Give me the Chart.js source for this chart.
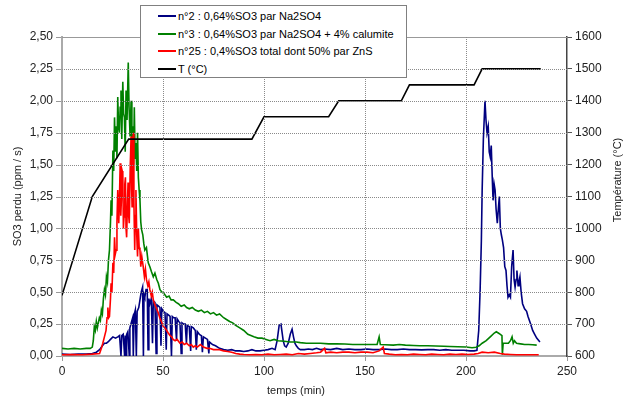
<!DOCTYPE html>
<html>
<head>
<meta charset="utf-8">
<script src="https://cdn.jsdelivr.net/npm/chart.js@4"></script>
<style>
  body { margin: 0; background: #fff; }
  #wrap { position: relative; width: 625px; height: 399px; }
  #chart { position: absolute; left: 0; top: 0; }
  #grid { position: absolute; left: 0; top: 0; width: 625px; height: 399px; pointer-events: none; }
  #grid .h { position: absolute; height: 0; border-top: 1px dotted #8a8a8a; }
  #grid .v { position: absolute; width: 0; border-left: 1px dotted #8a8a8a; }
  #grid .tk { position: absolute; background: #999; }
  #legend {
    position: absolute; left: 140px; top: 5px; width: 265px; height: 71px;
    border: 1px solid #808080; background: #fff;
    font: 11px 'Liberation Sans', Arial, sans-serif; color: #000;
  }
  #legend div { position: absolute; left: 17px; height: 14px; line-height: 14px; white-space: nowrap; }
  #legend span.sw { display: inline-block; width: 18px; height: 2px; vertical-align: middle; margin-right: 2px; position: relative; top: -1px; }
</style>
</head>
<body>
<div id="wrap">
  <canvas id="chart" width="625" height="399"></canvas>
  <div id="grid"></div>
  <div id="legend"></div>
</div>
<script>
// temperature programme
const tTemp = [0, 15, 33, 94, 100, 132, 137, 168, 172, 204, 208, 237];
const temp = [790, 1100, 1280, 1280, 1350, 1350, 1400, 1400, 1450, 1450, 1500, 1500];

// n°2 : 0,64%SO3 par Na2SO4
const tN2 = [0, 4, 8, 12, 15, 17, 18.6, 20, 21, 22, 22.8, 24, 25.2, 26.5, 27.6, 28.5, 29.2, 29.6, 30.3, 31, 31.3, 31.7, 32, 32.6, 33.3, 33.6, 34.3, 35, 35.3, 35.7, 36.3, 36.8, 37.2, 38, 38.6, 39.2, 39.9, 40.3, 40.6, 41, 41.6, 42.2, 42.6, 43, 43.5, 44.2, 44.8, 45.2, 46, 46.6, 47, 47.8, 48.5, 49, 49.4, 50.2, 51, 51.6, 52, 52.8, 53.5, 54.2, 54.6, 55.3, 56, 56.7, 57, 57.8, 58.4, 59, 59.4, 60.2, 61, 61.6, 62, 63, 63.7, 64, 65, 66, 66.5, 67, 68, 69, 69.5, 70, 71, 72, 72.7, 73, 74.5, 76, 78, 80, 82, 84, 86, 88, 90, 92, 94, 96, 98, 100, 102, 104, 105.5, 106.5, 107.5, 108.4, 109, 109.5, 110.2, 111, 112, 113, 113.9, 114.6, 115.3, 116, 117, 118, 120, 122, 124, 126, 128, 130, 133, 136, 139, 142, 145, 148, 151, 154, 157, 160, 163, 166, 169, 172, 175, 178, 181, 184, 187, 190, 193, 196, 199, 202, 204, 205.4, 206.3, 207, 207.6, 208, 208.6, 209.4, 209.9, 210.4, 211, 211.5, 212, 212.5, 213, 213.4, 213.9, 214.4, 214.9, 215.5, 216, 216.5, 217, 217.5, 218, 218.6, 219.2, 219.8, 220.3, 220.8, 221.4, 222, 222.6, 223.3, 223.8, 224.3, 224.8, 225.2, 225.8, 226.2, 226.7, 227.3, 228, 229, 230, 230.7, 232, 233, 234, 235, 236.6];
const so3N2 = [0.015, 0.012, 0.015, 0.015, 0.02, 0.03, 0.05, 0.08, 0.1, 0.1, 0.11, 0.13, 0.15, 0.14, 0.15, 0.16, 0.0, 0.16, 0.17, 0.0, 0.16, 0.0, 0.17, 0.19, 0.0, 0.22, 0.26, 0.3, 0.0, 0.32, 0.36, 0.0, 0.35, 0.38, 0.44, 0.5, 0.54, 0.0, 0.48, 0.46, 0.52, 0.52, 0.05, 0.45, 0.41, 0.45, 0.1, 0.43, 0.42, 0.02, 0.4, 0.39, 0.38, 0.08, 0.37, 0.35, 0.34, 0.05, 0.33, 0.32, 0.31, 0.0, 0.31, 0.3, 0.3, 0.12, 0.29, 0.27, 0.26, 0.02, 0.26, 0.25, 0.25, 0.1, 0.24, 0.23, 0.04, 0.23, 0.22, 0.2, 0.05, 0.19, 0.17, 0.16, 0.03, 0.15, 0.14, 0.13, 0.02, 0.11, 0.09, 0.08, 0.06, 0.05, 0.045, 0.05, 0.04, 0.04, 0.035, 0.04, 0.05, 0.04, 0.04, 0.045, 0.05, 0.06, 0.05, 0.12, 0.24, 0.25, 0.18, 0.12, 0.08, 0.07, 0.1, 0.17, 0.21, 0.15, 0.1, 0.08, 0.06, 0.05, 0.05, 0.055, 0.05, 0.06, 0.05, 0.055, 0.05, 0.06, 0.05, 0.055, 0.05, 0.05, 0.055, 0.05, 0.05, 0.055, 0.05, 0.05, 0.055, 0.05, 0.05, 0.048, 0.05, 0.05, 0.045, 0.05, 0.045, 0.045, 0.045, 0.04, 0.04, 0.045, 0.2, 0.52, 0.9, 1.3, 1.7, 2.0, 1.85, 1.75, 1.8, 1.6, 1.56, 1.65, 1.4, 1.22, 1.35, 1.3, 1.15, 1.04, 1.15, 1.25, 1.0, 0.95, 0.91, 0.85, 0.7, 0.67, 0.55, 0.46, 0.48, 0.46, 0.7, 0.83, 0.6, 0.54, 0.6, 0.67, 0.55, 0.58, 0.62, 0.5, 0.41, 0.37, 0.35, 0.31, 0.25, 0.2, 0.17, 0.14, 0.11];

// n°3 : 0,64%SO3 par Na2SO4 + 4% calumite
const tN3 = [0, 3, 6, 9, 12, 14, 15, 15.5, 16, 16.5, 17, 17.5, 18, 18.5, 19, 19.5, 20, 20.5, 21, 21.5, 22, 22.5, 23, 23.5, 24, 24.3, 24.7, 25.2, 25.6, 26, 26.4, 26.8, 27.2, 27.6, 28, 28.4, 28.8, 29.2, 29.6, 30.1, 30.5, 30.9, 31.3, 31.7, 32.2, 32.8, 33.2, 33.7, 34.2, 34.6, 35, 35.4, 35.8, 36.2, 36.6, 37, 37.4, 37.8, 38.2, 38.6, 39, 39.4, 40, 40.5, 41, 41.8, 42.7, 43.5, 44.3, 45.2, 46, 46.9, 47.7, 48.5, 49.5, 50.5, 51.8, 53, 54, 55.1, 56.5, 57.6, 59, 60.5, 61.7, 63, 64.5, 66, 67.5, 69, 70.5, 72, 73.5, 75, 76.5, 78, 80, 82, 83, 84.5, 86, 88, 90, 92, 93.5, 95, 97, 99, 101, 103, 105, 107, 110, 113, 116, 118, 121, 124, 128, 132, 136, 140, 144, 148, 152, 156, 157, 157.6, 160, 164, 167, 170, 174, 177, 181, 185, 189, 192, 196, 200, 203, 205, 206.5, 208, 210, 212, 214, 215, 216, 217, 217.8, 218, 218.4, 219, 220, 221, 222, 222.8, 223.4, 224, 225, 227, 229, 231, 233, 235];
const so3N3 = [0.06, 0.055, 0.06, 0.055, 0.06, 0.06, 0.07, 0.12, 0.23, 0.2, 0.27, 0.22, 0.26, 0.3, 0.28, 0.36, 0.33, 0.45, 0.52, 0.48, 0.62, 0.58, 0.75, 0.83, 1.05, 1.22, 1.1, 1.61, 1.45, 1.87, 1.6, 1.8, 1.55, 2.03, 1.8, 1.75, 1.95, 2.08, 1.7, 2.15, 1.9, 1.87, 1.6, 2.08, 1.85, 2.3, 1.95, 1.72, 2.0, 1.6, 1.8, 1.5, 1.95, 1.55, 1.67, 1.45, 1.75, 1.4, 1.3, 1.22, 1.05, 0.99, 0.95, 0.88, 0.83, 0.85, 0.73, 0.7, 0.66, 0.62, 0.65, 0.6, 0.57, 0.52, 0.5, 0.49, 0.46, 0.47, 0.44, 0.44, 0.42, 0.41, 0.39, 0.4, 0.38, 0.37, 0.38, 0.36, 0.35, 0.36, 0.34, 0.35, 0.33, 0.34, 0.32, 0.33, 0.3, 0.28, 0.27, 0.26, 0.24, 0.22, 0.2, 0.17, 0.16, 0.15, 0.14, 0.14, 0.13, 0.12, 0.13, 0.12, 0.115, 0.11, 0.11, 0.105, 0.1, 0.1, 0.1, 0.095, 0.095, 0.094, 0.09, 0.09, 0.09, 0.09, 0.15, 0.09, 0.088, 0.085, 0.09, 0.085, 0.082, 0.08, 0.08, 0.078, 0.076, 0.075, 0.072, 0.07, 0.065, 0.068, 0.08, 0.1, 0.12, 0.15, 0.18, 0.19, 0.18, 0.17, 0.16, 0.01, 0.1, 0.1, 0.1, 0.1, 0.12, 0.15, 0.1, 0.12, 0.1, 0.095, 0.09, 0.09, 0.088, 0.085];

// n°25 : 0,4%SO3 total dont 50% par ZnS
const tN25 = [0, 5, 10, 15, 18.6, 19.5, 20.2, 21, 21.8, 22.3, 22.7, 23.1, 23.5, 24, 24.3, 24.7, 25.2, 25.6, 26, 26.4, 26.8, 27.2, 27.6, 28.1, 28.4, 28.8, 29.1, 29.4, 29.8, 30.1, 30.4, 30.7, 31.1, 31.4, 31.7, 32, 32.4, 32.7, 33, 33.3, 33.8, 34.2, 34.5, 34.7, 35, 35.3, 35.6, 36, 36.3, 36.6, 37, 37.4, 37.8, 38.2, 38.6, 39, 39.5, 40.2, 40.8, 41.3, 41.8, 42.5, 43, 43.5, 44.2, 44.7, 45.2, 46, 46.6, 47.6, 48.4, 49.2, 50.2, 51, 51.8, 52.6, 53.5, 54.3, 55, 56, 57, 58.4, 59.5, 60.5, 61.7, 63, 64, 65, 66, 67, 68.5, 70, 71.8, 73, 75, 77, 78, 80, 82, 84, 86, 88, 90, 93, 96, 99, 102, 105, 108, 111, 114, 117, 120, 123, 126, 128, 130, 130.6, 133, 136, 139, 142, 145, 148, 151, 154, 157, 159, 159.6, 162, 165, 168, 171, 174, 177, 180, 183, 186, 189, 192, 195, 198, 201, 204, 206, 208, 211, 214, 217, 219, 222, 225, 228, 232, 236];
const so3N25 = [0.01, 0.012, 0.01, 0.015, 0.02, 0.06, 0.1, 0.15, 0.2, 0.3, 0.38, 0.3, 0.31, 0.45, 0.57, 0.5, 0.73, 0.65, 0.93, 0.8, 0.83, 1.05, 1.3, 1.04, 1.2, 1.51, 1.1, 1.22, 1.45, 1.43, 1.0, 1.09, 1.35, 1.4, 1.0, 0.93, 1.2, 1.36, 1.1, 1.04, 1.5, 1.72, 1.3, 1.17, 1.45, 1.75, 1.2, 0.83, 1.1, 1.3, 0.95, 0.78, 1.0, 0.85, 0.83, 0.7, 0.78, 0.7, 0.62, 0.68, 0.6, 0.55, 0.58, 0.52, 0.47, 0.5, 0.44, 0.4, 0.38, 0.34, 0.3, 0.27, 0.23, 0.22, 0.2, 0.18, 0.16, 0.15, 0.13, 0.12, 0.13, 0.1, 0.11, 0.09, 0.1, 0.08, 0.09, 0.07, 0.08, 0.07, 0.09, 0.07, 0.06, 0.06, 0.05, 0.05, 0.05, 0.04, 0.035, 0.03, 0.02, 0.015, 0.012, 0.01, 0.012, 0.01, 0.015, 0.01, 0.012, 0.015, 0.01, 0.02, 0.015, 0.02, 0.025, 0.03, 0.06, 0.025, 0.03, 0.025, 0.03, 0.03, 0.025, 0.03, 0.03, 0.025, 0.04, 0.07, 0.02, 0.015, 0.01, 0.012, 0.01, 0.015, 0.012, 0.01, 0.015, 0.012, 0.01, 0.015, 0.012, 0.015, 0.012, 0.015, 0.02, 0.03, 0.025, 0.03, 0.02, 0.015, 0.012, 0.01, 0.01, 0.01, 0.01];

const xTicks = [0, 50, 100, 150, 200, 250];
const yTicks = [0, 0.25, 0.5, 0.75, 1, 1.25, 1.5, 1.75, 2, 2.25, 2.5];

const labels = [
  'n°2 : 0,64%SO3 par Na2SO4',
  'n°3 : 0,64%SO3 par Na2SO4 + 4% calumite',
  'n°25 : 0,4%SO3 total dont 50% par ZnS',
  'T (°C)'
];
const colors = ['#000080', '#008000', '#ff0000', '#000000'];

const pts = (t, v) => t.map((x, i) => ({ x: x, y: v[i] }));

const FONT = "'Liberation Sans', Arial, sans-serif";
Chart.defaults.font.family = FONT;
Chart.defaults.color = '#222';

// top frame line and the two hand-placed axis titles
const frame = {
  id: 'frame',
  afterDraw(chart) {
    const { ctx, chartArea: a } = chart;
    ctx.save();
    ctx.strokeStyle = '#999';
    ctx.lineWidth = 1;
    ctx.beginPath();
    ctx.moveTo(a.left, a.top + 0.5);
    ctx.lineTo(a.right, a.top + 0.5);
    ctx.stroke();
    ctx.fillStyle = '#222';
    ctx.font = '11px ' + FONT;
    ctx.textAlign = 'center';
    ctx.textBaseline = 'middle';
    ctx.fillText('temps (min)', 296, 391);
    ctx.translate(618, 180);
    ctx.rotate(-Math.PI / 2);
    ctx.fillText('Température (°C)', 0, 0);
    ctx.restore();
  }
};

const chart = new Chart(document.getElementById('chart'), {
  type: 'line',
  data: {
    datasets: [
      { label: labels[0], data: pts(tN2, so3N2), borderColor: colors[0], yAxisID: 'y', order: 3 },
      { label: labels[1], data: pts(tN3, so3N3), borderColor: colors[1], yAxisID: 'y', order: 2 },
      { label: labels[2], data: pts(tN25, so3N25), borderColor: colors[2], yAxisID: 'y', order: 1 },
      { label: labels[3], data: pts(tTemp, temp), borderColor: colors[3], yAxisID: 'y2', order: 0 }
    ]
  },
  options: {
    responsive: false,
    animation: false,
    layout: { padding: { top: 37, left: 0, right: 0, bottom: 0 } },
    elements: {
      point: { radius: 0 },
      line: { borderWidth: 1.6, tension: 0, fill: false }
    },
    plugins: { legend: { display: false }, tooltip: { enabled: false } },
    scales: {
      x: {
        type: 'linear', min: 0, max: 250,
        afterBuildTicks: s => { s.ticks = xTicks.map(v => ({ value: v })); },
        afterFit: s => { s.height = 43; },
        ticks: { font: { size: 12 }, padding: 4, maxRotation: 0, callback: v => String(v) },
        grid: { display: false, tickLength: 4 },
        border: { color: '#aaa', width: 2 }
      },
      y: {
        position: 'left', min: 0, max: 2.5,
        afterBuildTicks: s => { s.ticks = yTicks.map(v => ({ value: v })); },
        afterFit: s => { s.width = 62; },
        ticks: { font: { size: 12 }, padding: 4,
          callback: v => v.toFixed(2).replace('.', ',') },
        grid: { display: false, tickLength: 5 },
        border: { color: '#aaa', width: 2 },
        title: { display: true, text: 'SO3 perdu (ppm / s)', font: { size: 11 }, padding: { top: 11 } }
      },
      y2: {
        position: 'right', min: 600, max: 1600,
        afterFit: s => { s.width = 58; },
        ticks: { stepSize: 100, font: { size: 12 }, padding: 3, callback: v => String(v) },
        grid: { drawOnChartArea: false, color: '#555', tickColor: '#555', tickLength: 5 },
        border: { color: '#444', width: 1.5 }
      }
    }
  },
  plugins: [frame]
});

// dotted grid and tick marks as an overlay, placed from the chart's own scales
const grid = document.getElementById('grid');
const area = chart.chartArea;
const sx = chart.scales.x, sy = chart.scales.y;
function add(cls, css) {
  const d = document.createElement('div');
  d.className = cls;
  Object.assign(d.style, css);
  grid.appendChild(d);
}
yTicks.forEach(v => {
  const p = Math.round(sy.getPixelForValue(v));
  if (v > sy.min && v < sy.max) {
    add('h', { left: area.left + 'px', top: p + 'px', width: (area.right - area.left) + 'px' });
  }
  add('tk', { left: (area.left - 6) + 'px', top: p + 'px', width: '5px', height: '1px' });
});
xTicks.forEach(v => {
  const p = Math.round(sx.getPixelForValue(v));
  if (v > sx.min && v < sx.max) {
    add('v', { left: p + 'px', top: area.top + 'px', height: (area.bottom - area.top) + 'px' });
  }
  add('tk', { left: p + 'px', top: (area.bottom + 1) + 'px', width: '1px', height: '4px' });
});

// legend box, built from the datasets
const lg = document.getElementById('legend');
chart.data.datasets.forEach((ds, i) => {
  const row = document.createElement('div');
  row.style.top = (3 + i * 17.7) + 'px';
  row.innerHTML = '<span class="sw" style="background:' + ds.borderColor + '"></span>' + ds.label;
  lg.appendChild(row);
});
</script>
</body>
</html>
